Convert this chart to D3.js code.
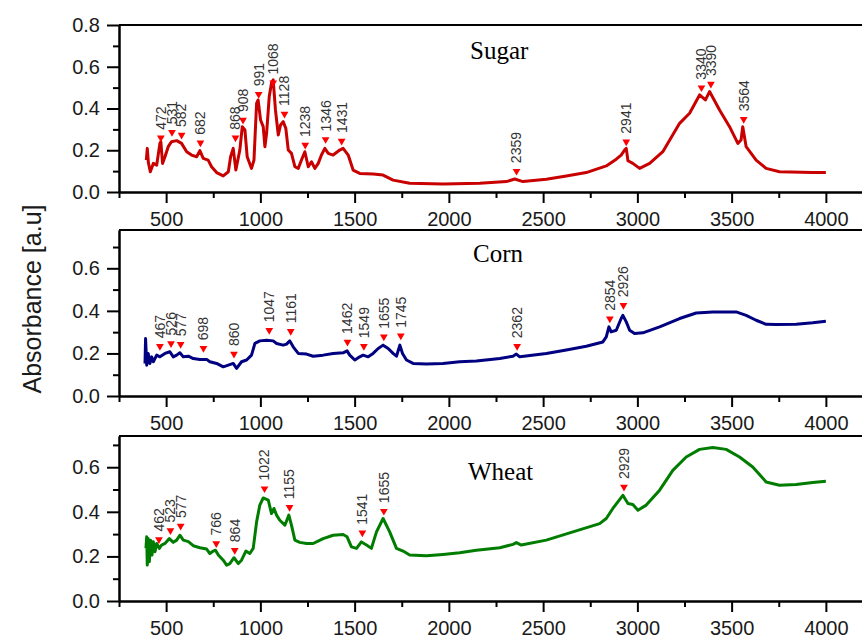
<!DOCTYPE html>
<html>
<head>
<meta charset="utf-8">
<script src="https://cdn.jsdelivr.net/npm/d3@7"></script>
<style>
body { margin: 0; background: #fff; }
svg { display: block; font-family: 'Liberation Sans', Arial, sans-serif; }
.axis path, .axis line { stroke: #000; stroke-width: 2; }
.axis text { font-size: 20px; fill: #1a1a1a; font-family: 'Liberation Sans', Arial, sans-serif; }
</style>
</head>
<body>
<svg width="862" height="638"></svg>
<script>
// wavenumber (cm-1) and absorbance
const sugarWn = [395,400,406,416,432,450,467,472,481,494,511,529,556,582,609,635,662,679,697,723,741,768,803,830,842,856,870,891,904,918,930,953,966,980,988,1001,1015,1024,1033,1047,1059,1068,1080,1095,1107,1121,1135,1148,1165,1183,1201,1218,1236,1254,1271,1289,1307,1324,1342,1360,1386,1421,1439,1466,1492,1527,1598,1651,1704,1792,1969,2164,2305,2349,2393,2517,2623,2729,2835,2888,2914,2932,2941,2950,2976,3012,3065,3135,3224,3277,3330,3361,3383,3436,3489,3533,3550,3559,3577,3630,3683,3754,3930,4000];
const sugarAbs = [0.153,0.209,0.14,0.097,0.137,0.129,0.233,0.241,0.137,0.169,0.217,0.241,0.246,0.233,0.193,0.177,0.169,0.198,0.161,0.153,0.121,0.093,0.077,0.097,0.169,0.209,0.105,0.201,0.313,0.297,0.169,0.113,0.153,0.425,0.441,0.345,0.313,0.217,0.281,0.457,0.521,0.537,0.393,0.273,0.321,0.337,0.305,0.201,0.185,0.121,0.113,0.153,0.193,0.121,0.145,0.113,0.137,0.177,0.209,0.185,0.177,0.201,0.209,0.177,0.105,0.089,0.086,0.081,0.057,0.042,0.038,0.042,0.050,0.062,0.050,0.061,0.077,0.093,0.125,0.157,0.177,0.201,0.209,0.150,0.137,0.113,0.137,0.193,0.329,0.377,0.465,0.441,0.481,0.393,0.313,0.233,0.249,0.313,0.217,0.153,0.113,0.097,0.094,0.094];

const cornWn = [388,391,397,405,414,423,432,450,467,494,520,538,556,573,591,618,644,679,715,732,768,803,830,856,874,900,927,953,971,997,1033,1068,1086,1121,1139,1156,1174,1201,1245,1280,1333,1386,1439,1460,1474,1501,1527,1545,1572,1598,1625,1651,1678,1704,1722,1740,1754,1775,1810,1881,1969,2057,2146,2270,2340,2358,2376,2517,2623,2729,2817,2835,2849,2861,2888,2914,2923,2941,2959,2985,3029,3118,3224,3312,3400,3524,3577,3630,3683,3736,3842,3930,4000];
const cornAbs = [0.153,0.270,0.145,0.200,0.153,0.184,0.161,0.192,0.184,0.200,0.208,0.184,0.192,0.203,0.184,0.187,0.176,0.172,0.172,0.161,0.153,0.137,0.145,0.153,0.130,0.161,0.169,0.192,0.247,0.259,0.262,0.259,0.247,0.239,0.244,0.259,0.231,0.200,0.197,0.187,0.192,0.200,0.203,0.212,0.192,0.169,0.184,0.192,0.184,0.200,0.223,0.239,0.223,0.200,0.187,0.239,0.200,0.169,0.153,0.150,0.153,0.161,0.164,0.176,0.187,0.197,0.184,0.200,0.216,0.234,0.254,0.278,0.325,0.301,0.309,0.364,0.379,0.348,0.309,0.294,0.297,0.325,0.364,0.390,0.395,0.395,0.379,0.356,0.337,0.336,0.337,0.344,0.351];

const wheatWn = [393,397,400,405,411,418,425,432,441,450,464,476,494,517,538,556,573,591,618,644,679,715,732,750,762,777,803,821,838,860,883,900,923,944,962,980,997,1015,1042,1059,1072,1086,1103,1130,1151,1165,1183,1209,1245,1280,1333,1386,1439,1460,1483,1510,1536,1563,1589,1616,1651,1686,1722,1757,1792,1881,1969,2057,2146,2270,2340,2358,2384,2517,2658,2800,2835,2870,2923,2950,2976,3003,3047,3118,3188,3259,3330,3400,3471,3542,3612,3683,3754,3842,3930,4000];
const wheatAbs = [0.236,0.288,0.161,0.280,0.176,0.273,0.206,0.266,0.221,0.258,0.236,0.251,0.258,0.280,0.263,0.273,0.295,0.273,0.266,0.248,0.239,0.233,0.213,0.224,0.228,0.206,0.183,0.161,0.168,0.194,0.168,0.183,0.224,0.213,0.236,0.355,0.430,0.462,0.452,0.392,0.415,0.385,0.362,0.340,0.385,0.340,0.273,0.263,0.258,0.258,0.280,0.295,0.298,0.288,0.243,0.236,0.265,0.251,0.236,0.310,0.370,0.310,0.236,0.224,0.206,0.203,0.209,0.216,0.228,0.239,0.254,0.262,0.251,0.273,0.310,0.347,0.370,0.415,0.474,0.437,0.433,0.407,0.430,0.497,0.586,0.646,0.680,0.688,0.680,0.646,0.601,0.534,0.519,0.522,0.531,0.537];

// peak markers: wavenumber and marker height
const sugarPeaks = [472,531,582,682,868,908,991,1068,1128,1238,1346,1431,2359,2941,3340,3390,3564];
const sugarPeakAbs = [0.26,0.286,0.273,0.236,0.26,0.345,0.468,0.524,0.374,0.225,0.252,0.244,0.10,0.241,0.50,0.517,0.348];
const cornPeaks = [467,526,577,698,860,1047,1161,1462,1549,1655,1745,2362,2854,2926];
const cornPeakAbs = [0.234,0.247,0.243,0.224,0.197,0.309,0.304,0.254,0.234,0.278,0.283,0.234,0.363,0.426];
const wheatPeaks = [462,523,577,766,864,1022,1155,1541,1655,2929];
const wheatPeakAbs = [0.276,0.316,0.336,0.258,0.228,0.504,0.42,0.306,0.403,0.511];

const xMajor = [500,1000,1500,2000,2500,3000,3500,4000];
const xMinor = [250,750,1250,1750,2250,2750,3250,3750,4250];

const svg = d3.select('svg');
const width = +svg.attr('width');

const xScale = d3.scaleLinear()
	.domain([250, 4250])
	.range([119, 873]);

const panels = [
	{ name: 'Sugar', wn: sugarWn, abs: sugarAbs, peaks: sugarPeaks, peakAbs: sugarPeakAbs,
	  color: '#c80000', yMax: 0.8, top: 25, bottom: 192, titleX: 470, titleY: 59 },
	{ name: 'Corn', wn: cornWn, abs: cornAbs, peaks: cornPeaks, peakAbs: cornPeakAbs,
	  color: '#000080', yMax: 0.78, top: 230, bottom: 396, titleX: 473, titleY: 262 },
	{ name: 'Wheat', wn: wheatWn, abs: wheatAbs, peaks: wheatPeaks, peakAbs: wheatPeakAbs,
	  color: '#007d00', yMax: 0.74, top: 436, bottom: 601, titleX: 468, titleY: 480 }
];

const triangle = d3.symbol().type(d3.symbolTriangle).size(26);

const render = p => {
	const yScale = d3.scaleLinear()
		.domain([0, p.yMax])
		.range([p.bottom, p.top]);

	const g = svg.append('g');

	// top frame line
	g.append('line')
		.attr('x1', xScale(250)).attr('x2', width)
		.attr('y1', p.top).attr('y2', p.top)
		.attr('stroke', '#000').attr('stroke-width', 2);

	const yMajor = d3.range(0, p.yMax + 0.001, 0.2);
	const yMinor = d3.range(0.1, p.yMax, 0.2);

	g.append('g').attr('class', 'axis')
		.attr('transform', `translate(0, ${p.bottom})`)
		.call(d3.axisBottom(xScale).tickValues(xMinor).tickSize(6).tickSizeOuter(0).tickFormat(''));
	g.append('g').attr('class', 'axis')
		.attr('transform', `translate(0, ${p.bottom})`)
		.call(d3.axisBottom(xScale).tickValues(xMajor).tickSize(11).tickSizeOuter(0).tickPadding(9).tickFormat(d3.format('d')));

	g.append('g').attr('class', 'axis')
		.attr('transform', `translate(${xScale(250)}, 0)`)
		.call(d3.axisLeft(yScale).tickValues(yMinor).tickSize(6).tickSizeOuter(0).tickFormat(''));
	g.append('g').attr('class', 'axis')
		.attr('transform', `translate(${xScale(250)}, 0)`)
		.call(d3.axisLeft(yScale).tickValues(yMajor).tickSize(12).tickSizeOuter(0).tickPadding(7).tickFormat(d3.format('.1f')));

	const line = d3.line()
		.x(d => xScale(d[0]))
		.y(d => yScale(d[1]));

	g.append('path')
		.datum(d3.zip(p.wn, p.abs))
		.attr('d', line)
		.attr('fill', 'none')
		.attr('stroke', p.color)
		.attr('stroke-width', 3)
		.attr('stroke-linejoin', 'round');

	const peaks = d3.zip(p.peaks, p.peakAbs);

	g.selectAll('.mark').data(peaks)
		.enter().append('path')
			.attr('class', 'mark')
			.attr('d', triangle)
			.attr('fill', '#ff0000')
			.attr('transform', d => `translate(${xScale(d[0])}, ${yScale(d[1])}) rotate(180)`);

	g.selectAll('.plabel').data(peaks)
		.enter().append('text')
			.attr('class', 'plabel')
			.attr('transform', d => `translate(${xScale(d[0])}, ${yScale(d[1]) - 8}) rotate(-90)`)
			.attr('dy', '0.35em')
			.attr('font-size', '14px')
			.attr('fill', '#333')
			.text(d => d[0]);

	g.append('text')
		.attr('x', p.titleX)
		.attr('y', p.titleY)
		.attr('font-family', "'Liberation Serif', 'Times New Roman', serif")
		.attr('font-size', '25px')
		.attr('fill', '#000')
		.text(p.name);
};

panels.forEach(render);

svg.append('text')
	.attr('transform', 'translate(41, 299) rotate(-90)')
	.attr('text-anchor', 'middle')
	.attr('font-size', '25px')
	.attr('fill', '#1a1a1a')
	.text('Absorbance [a.u]');
</script>
</body>
</html>
